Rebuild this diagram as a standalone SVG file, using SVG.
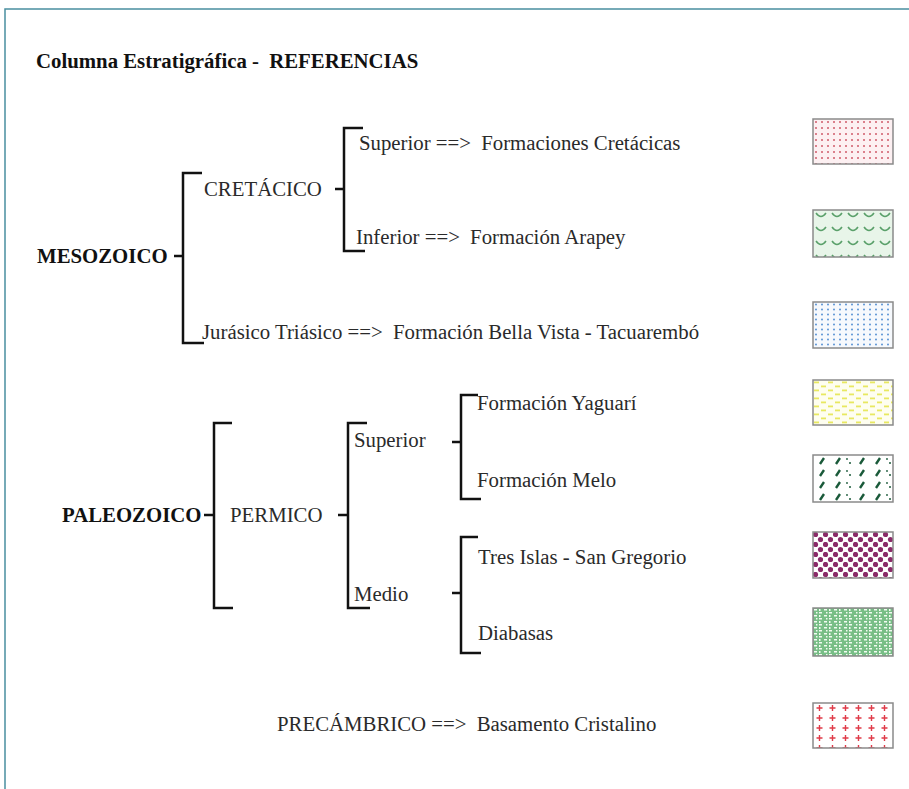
<svg xmlns="http://www.w3.org/2000/svg" width="909" height="789" viewBox="0 0 909 789">
<defs>
<style>
text{font-family:"Liberation Serif","Times New Roman",serif;font-size:20.8px;fill:#2a2a2a}
.b{font-weight:bold;fill:#111}
.br{fill:none;stroke:#111;stroke-width:2.5}
.sw{stroke:#8a8a8a;stroke-width:1.5}
</style>
<pattern id="p1" width="6" height="6" patternUnits="userSpaceOnUse" x="813" y="119"><rect width="6" height="6" fill="#fdf0f2"/><circle cx="3" cy="3" r="1" fill="#d05a6a"/></pattern>
<pattern id="p2" width="16" height="14" patternUnits="userSpaceOnUse" x="813" y="210"><rect width="16" height="14" fill="#e8f5e9"/><path d="M3,3 Q8,10 13,3" fill="none" stroke="#5aa06a" stroke-width="1.5"/></pattern>
<pattern id="p3" width="6" height="5" patternUnits="userSpaceOnUse" x="813" y="302"><rect width="6" height="5" fill="#f6f9fd"/><circle cx="3" cy="2.5" r="0.9" fill="#4a88d0"/></pattern>
<pattern id="p4" width="14" height="8" patternUnits="userSpaceOnUse" x="813" y="380"><rect width="14" height="8" fill="#fefef0"/><rect x="1" y="1.5" width="5" height="1.8" fill="#e8e860"/><rect x="8" y="5.5" width="5" height="1.8" fill="#e8e860"/></pattern>
<pattern id="p5" width="40" height="12" patternUnits="userSpaceOnUse" x="813" y="455"><rect width="40" height="12" fill="#fff"/><path d="M7,9 L11,3 M23,9 L27,3" stroke="#1a5a3a" stroke-width="2.4"/><circle cx="34" cy="4" r="0.9" fill="#1a5a3a"/><circle cx="37" cy="8" r="1" fill="#1a5a3a"/></pattern>
<pattern id="p6" width="10" height="10" patternUnits="userSpaceOnUse" x="813" y="532"><rect width="10" height="10" fill="#fff"/><circle cx="2.5" cy="2.5" r="2.6" fill="#8a2a68"/><circle cx="7.5" cy="7.5" r="2.6" fill="#8a2a68"/></pattern>
<pattern id="p7" width="10" height="6" patternUnits="userSpaceOnUse" x="813" y="608"><rect width="10" height="6" fill="#78be86"/><rect x="1" y="1" width="3" height="1.5" fill="#f2fbf2"/><rect x="6" y="1" width="1.5" height="2" fill="#f2fbf2"/><rect x="3" y="4" width="1.5" height="1.5" fill="#f2fbf2"/><rect x="6" y="4" width="3" height="1.5" fill="#f2fbf2"/></pattern>
<pattern id="p8" width="13" height="10" patternUnits="userSpaceOnUse" x="813" y="703"><rect width="13" height="10" fill="#fff"/><path d="M6.5,2 V8 M3.5,5 H9.5" stroke="#e03a48" stroke-width="1.4"/></pattern>
</defs>
<rect width="909" height="789" fill="#fff"/>
<path d="M5,789 V9 H909" fill="none" stroke="#4a8fa0" stroke-width="1.5"/>
<text class="b" x="36" y="68">Columna Estratigráfica -  <tspan dx="5">REFERENCIAS</tspan></text>
<g id="connectors">
<path class="br" d="M174,256 H183 M202,173 H183 V343 H204"/>
<path class="br" d="M335,189 H344 M363,128 H344 V251 H365"/>
<path class="br" d="M204,515 H214 M232,423 H214 V608 H233"/>
<path class="br" d="M338,515 H348 M367,423 H348 V608 H370"/>
<path class="br" d="M452,442 H461 M478,395 H461 V499 H481"/>
<path class="br" d="M452,593 H461 M478,537 H461 V653 H481"/>
</g>
<g id="mesozoico"><text class="b" x="37" y="263">MESOZOICO</text></g>
<g id="cretacico"><text x="204" y="196">CRETÁCICO</text></g>
<g id="cret-sup"><text x="359" y="150">Superior ==&gt;  <tspan dx="5">Formaciones Cretácicas</tspan></text></g>
<g id="cret-inf"><text x="356" y="244">Inferior ==&gt;  <tspan dx="5">Formación Arapey</tspan></text></g>
<g id="jurasico"><text x="202" y="339">Jurásico Triásico ==&gt;  <tspan dx="5">Formación Bella Vista - Tacuarembó</tspan></text></g>
<g id="paleozoico"><text class="b" x="62" y="522">PALEOZOICO</text></g>
<g id="permico"><text x="230" y="522">PERMICO</text></g>
<g id="perm-sup"><text x="354" y="447">Superior</text></g>
<g id="perm-med"><text x="354" y="601">Medio</text></g>
<g id="yaguari"><text x="477" y="410">Formación Yaguarí</text></g>
<g id="melo"><text x="477" y="487">Formación Melo</text></g>
<g id="tres-islas"><text x="478" y="564">Tres Islas - San Gregorio</text></g>
<g id="diabasas"><text x="478" y="640">Diabasas</text></g>
<g id="precambrico"><text x="277" y="731">PRECÁMBRICO ==&gt;  <tspan dx="5">Basamento Cristalino</tspan></text></g>
<g id="swatches">
<rect class="sw" x="813" y="119" width="80" height="45" fill="url(#p1)"/>
<rect class="sw" x="813" y="210" width="80" height="47" fill="url(#p2)"/>
<rect class="sw" x="813" y="302" width="80" height="46" fill="url(#p3)"/>
<rect class="sw" x="813" y="380" width="80" height="45" fill="url(#p4)"/>
<rect class="sw" x="813" y="455" width="80" height="47" fill="url(#p5)"/>
<rect class="sw" x="813" y="532" width="80" height="46" fill="url(#p6)"/>
<rect class="sw" x="813" y="608" width="80" height="48" fill="url(#p7)"/>
<rect class="sw" x="813" y="703" width="80" height="45" fill="url(#p8)"/>
</g>
</svg>
